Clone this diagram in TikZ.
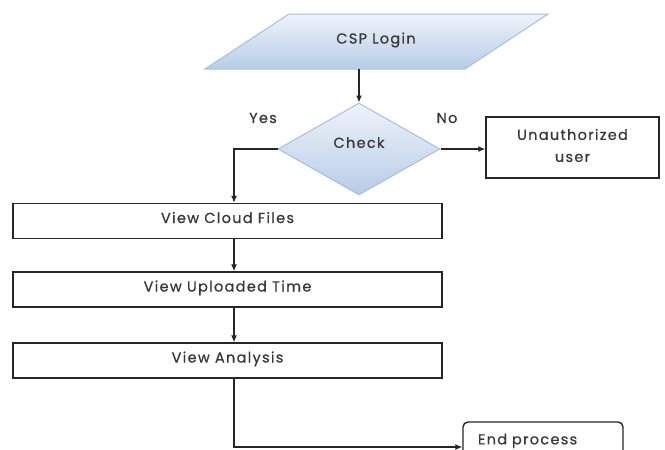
\documentclass[tikz,border=0pt]{standalone}
\usepackage{fontspec}
\setmainfont{Poppins}[LetterSpace=9, FakeBold=0.6]
\usetikzlibrary{shapes.geometric,arrows.meta}
\definecolor{ink}{HTML}{383838}
\definecolor{wire}{HTML}{262626}
\definecolor{edgeblue}{HTML}{A7BFDF}
\definecolor{fillhi}{HTML}{EEF3FA}
\definecolor{filllo}{HTML}{B8CCE6}
\tikzset{
  txt/.style={text=ink, font=\fontsize{14.5}{17}\selectfont},
  procbox/.style={txt, draw=wire, line width=1.4pt, fill=white,
    minimum width=429pt, minimum height=35pt, inner sep=0pt,
    text height=10pt, text depth=6pt},
  flow/.style={draw=wire, line width=1.2pt, -{Latex[length=7pt,width=6pt]}},
}
\begin{document}
\begin{tikzpicture}[x=1pt,y=-1pt]
\useasboundingbox (0,0) rectangle (665,450);
\clip (0,0) rectangle (665,450);

% input/output parallelogram
\path[draw=edgeblue, line width=1pt, top color=fillhi, bottom color=filllo]
  (289,14) -- (548,14) -- (465,69) -- (205,69) -- cycle;
\node[txt, minimum width=260pt, minimum height=55pt, inner sep=0pt] (login) at (376,40) {CSP Login};

% decision
\node[diamond, draw=edgeblue, line width=1pt, top color=fillhi, bottom color=filllo,
  minimum width=162pt, minimum height=92pt, inner sep=0pt, txt] (check) at (359,149)
  {\raisebox{13pt}{Check}};

\node[txt] (yes) at (263,118) {Yes};
\node[txt] (no) at (447,118) {No};

\node[txt, draw=wire, line width=1.4pt, minimum width=173pt, minimum height=61pt,
  inner sep=0pt, align=center] (unauth) at (572.5,147.5)
  {\raisebox{4pt}{\begin{tabular}{@{}c@{}}Unauthorized\\[5pt]user\end{tabular}}};

% process steps
\node[procbox] (cloud) at (227.5,221) {View Cloud Files};
\node[procbox] (upload) at (227.5,289.5) {View Uploaded Time};
\node[procbox] (analysis) at (227.5,360.5) {View Analysis};

\node[txt, draw=wire, line width=1.4pt, rounded corners=5pt, minimum width=160pt,
  minimum height=40pt, inner sep=0pt, text width=130pt, align=left] (endp) at (543,442)
  {\raisebox{6pt}{End process}};

\coordinate (spine) at (234,0);
\coordinate (loginout) at (359,69);

% connectors
\draw[flow] (loginout) -- (check.north);
\draw[flow] (check.east) -- (check.east -| unauth.west);
\draw[flow] (check.west) -| (spine |- cloud.north);
\draw[flow] (spine |- cloud.south) -- (spine |- upload.north);
\draw[flow] (spine |- upload.south) -- (spine |- analysis.north);
\draw[flow] (spine |- analysis.south) |- ([yshift=-5pt]endp.west);
\end{tikzpicture}
\end{document}
